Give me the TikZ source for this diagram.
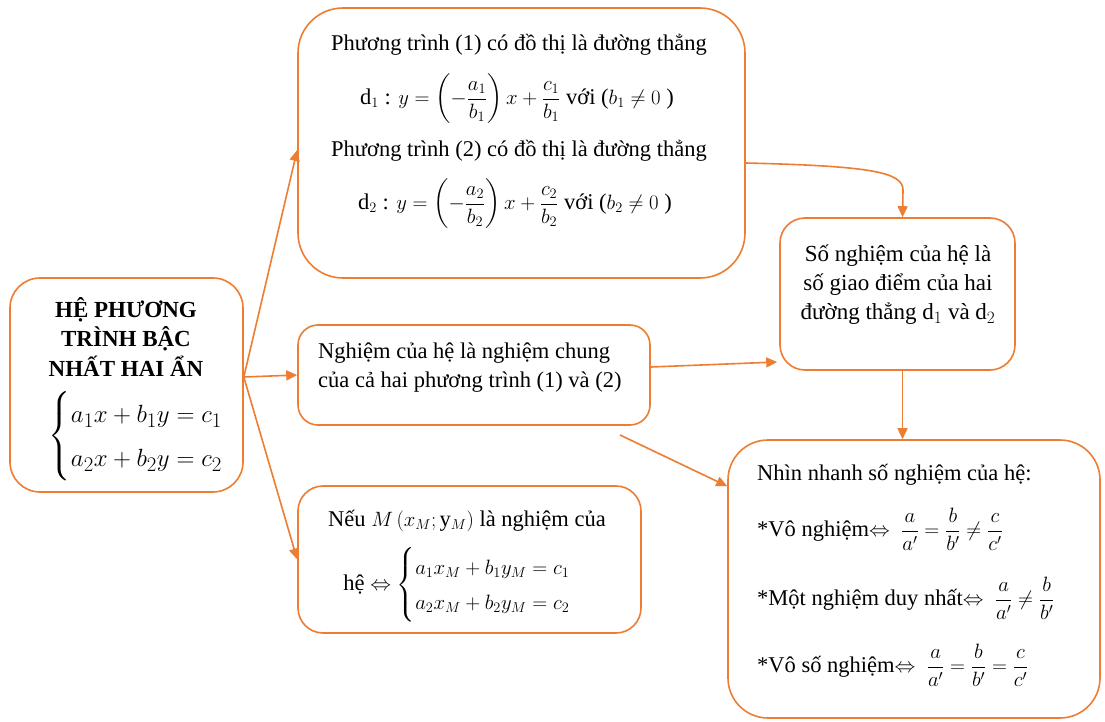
\documentclass[tikz,border=0pt]{standalone}
\usepackage{amsmath}
\usepackage{fontspec}
\setmainfont{Liberation Serif}
\usetikzlibrary{arrows.meta,calc}
\definecolor{org}{HTML}{ED7D31}
\begin{document}
\begin{tikzpicture}[x=1pt,y=-1pt,
  box/.style={draw=org,line width=1.6pt,fill=white,inner sep=0pt},
  txt/.style={inner sep=0pt,font=\fontsize{22.5}{27}\selectfont,align=center},
  ltxt/.style={inner sep=0pt,font=\fontsize{22.5}{27}\selectfont,align=left,anchor=west},
  conn/.style={draw=org,line width=1.6pt,-{Triangle[length=11pt,width=10pt]}}]
\useasboundingbox[fill=white] (0,0) rectangle (1105,722);
% boxes
\node[box,rounded corners=30pt,minimum width=233pt,minimum height=214pt] (lb) at (126.5,385) {};
\node[box,rounded corners=45pt,minimum width=447pt,minimum height=270pt] (tb) at (521.5,143) {};
\node[box,rounded corners=20pt,minimum width=352pt,minimum height=100pt] (mb) at (474,375) {};
\node[box,rounded corners=25pt,minimum width=343pt,minimum height=147pt] (bl) at (469.5,559.5) {};
\node[box,rounded corners=25pt,minimum width=235pt,minimum height=152pt] (rb) at (897.5,294) {};
\node[box,rounded corners=40pt,minimum width=372pt,minimum height=278pt] (br) at (914,579) {};
% left box text
\node[txt,font=\fontsize{23}{29.5}\selectfont\bfseries] (lt) at (126,337) {HỆ PHƯƠNG\\TRÌNH BẬC\\NHẤT HAI ẨN};
\node[txt,font=\fontsize{31}{34}\selectfont] (le) at (136,436) {$\left\{\renewcommand{\arraystretch}{1.3}\begin{array}{@{}l@{}} a_1x+b_1y=c_1\\ a_2x+b_2y=c_2\end{array}\right.$};
% top box text
\node[txt] (t1) at (519,45) {Phương trình (1) có đồ thị là đường thẳng};
\node[txt] (t2) at (517,99) {d$_1$ : $y=\left(-\dfrac{a_1}{b_1}\right)x+\dfrac{c_1}{b_1}$ với ($b_1\neq 0$ )};
\node[txt] (t3) at (519,151) {Phương trình (2) có đồ thị là đường thẳng};
\node[txt] (t4) at (515,204) {d$_2$ : $y=\left(-\dfrac{a_2}{b_2}\right)x+\dfrac{c_2}{b_2}$ với ($b_2\neq 0$ )};
% middle box text
\node[ltxt] (m1) at (318,353) {Nghiệm của hệ là nghiệm chung};
\node[ltxt] (m2) at (318,382) {của cả hai phương trình (1) và (2)};
% bottom left text
\node[txt] (n1) at (467,521) {Nếu $M\left(x_M;\mathrm{y}_M\right)$ là nghiệm của};
\node[txt] (n2) at (457,585) {hệ $\Leftrightarrow\left\{\renewcommand{\arraystretch}{1.3}\begin{array}{@{}l@{}} a_1x_M+b_1y_M=c_1\\ a_2x_M+b_2y_M=c_2\end{array}\right.$};
% right box text
\node[txt,font=\fontsize{23}{29}\selectfont] (r1) at (898,285) {Số nghiệm của hệ là\\số giao điểm của hai\\đường thẳng d$_1$ và d$_2$};
% bottom right text
\node[ltxt] (q0) at (757,475) {Nhìn nhanh số nghiệm của hệ:};
\node[ltxt] (q1) at (757,529) {*Vô nghiệm$\Leftrightarrow\ \dfrac{a}{a'}=\dfrac{b}{b'}\neq\dfrac{c}{c'}$};
\node[ltxt] (q2) at (757,598) {*Một nghiệm duy nhất$\Leftrightarrow\ \dfrac{a}{a'}\neq\dfrac{b}{b'}$};
\node[ltxt] (q3) at (757,665) {*Vô số nghiệm$\Leftrightarrow\ \dfrac{a}{a'}=\dfrac{b}{b'}=\dfrac{c}{c'}$};
% connectors
\coordinate (ls) at ($(lb.east)+(0,-8)$);
\draw[conn] (ls) -- ($(tb.west)+(0,7)$);
\draw[conn] (ls) -- (mb.west);
\draw[conn] (ls) -- (bl.west);
\coordinate (ts) at ($(tb.east)+(0,20)$);
\coordinate (rs) at ($(rb.north)+(5,0)$);
\draw[conn] (ts) .. controls (870,166) and (903,172) .. (903,190) -- (rs);
\draw[conn] ($(mb.east)+(0,-8)$) -- ($(rb.west)+(-2,68)$);
\coordinate (rd) at ($(rb.south)+(5,0)$);
\draw[conn] (rd) -- (rd |- br.north);
\coordinate (fs) at (620,435);
\draw[conn] (fs) -- ($(br.north west)+(0,47)$);
\end{tikzpicture}
\end{document}
